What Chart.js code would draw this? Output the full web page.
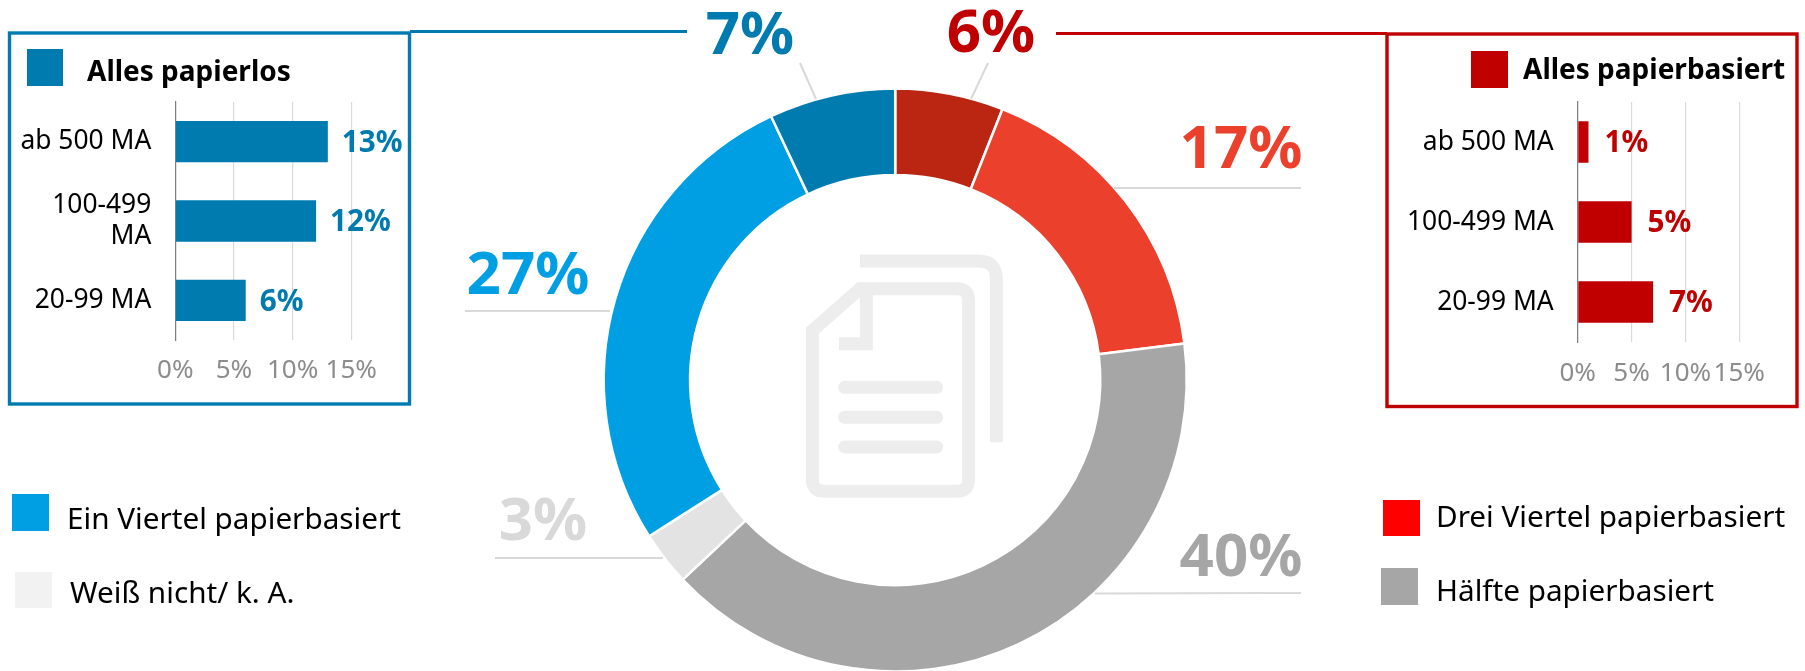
<!DOCTYPE html>
<html lang="de"><head><meta charset="utf-8">
<script src="https://cdn.jsdelivr.net/npm/chart.js@4"></script>
<style>
html,body{margin:0;padding:0;background:#fff;width:1805px;height:671px;overflow:hidden;font-family:"Noto Sans",sans-serif}
canvas,svg,.sw,.t{position:absolute}
.t{white-space:nowrap;line-height:1;transform:translateY(-50%);color:#000}
</style></head><body>
<canvas id="donut" width="1805" height="680" style="left:0;top:0"></canvas>
<svg width="1805" height="671" style="left:0;top:0" fill="none">
  <g stroke="#EDEDED">
    <g transform="translate(760 230) scale(.3333)" stroke-width="39">
      <path d="M300 93H655Q709 93 709 147V637"/>
      <path d="M300 176H590Q626 176 626 212V748Q626 784 590 784H193Q157 784 157 748V302Z"/>
      <path d="M237 341H319V176"/>
      <path stroke-linecap="round" d="M254 472H530M254 562H530M254 651H530"/>
    </g>
  </g>
  <g stroke="#D9D9D9" stroke-width="2">
    <path d="M800 63L816 99M988 63L971 99M1114 188H1301M465 311H610M495 558H663M1095 593.5L1301 593"/>
  </g>
  <path stroke="#007BB0" stroke-width="3.2" d="M410 31.5H687"/>
  <path stroke="#C00000" stroke-width="3.2" d="M1056 33.5H1387"/>
  <rect x="9.5" y="33" width="400" height="371" stroke="#007BB0" stroke-width="3.4"/>
  <rect x="1387" y="34" width="410" height="372.5" stroke="#C00000" stroke-width="3.4"/>
</svg>
<canvas id="barL" width="395" height="310" style="left:10px;top:90px"></canvas>
<canvas id="barR" width="404" height="314" style="left:1390px;top:90px"></canvas>
<div id="html"></div>
<script>
const FONT = '"Noto Sans", sans-serif';
const donutLabels = ['Alles papierbasiert','Drei Viertel papierbasiert','Hälfte papierbasiert','Weiß nicht/ k. A.','Ein Viertel papierbasiert','Alles papierlos'];
const donutValues = [6,17,40,3,27,7];
const donutColors = ['#BA2612','#EB412C','#A6A6A6','#E3E3E3','#009FE3','#007BB0'];
const donutTextColors = ['#C00000','#EB412C','#A6A6A6','#D9D9D9','#009FE3','#007BB0'];
const donutTextCenters = [[991,35],[1241,151],[1241,559],[543,523],[528,277],[750,37]];

const barCategories = ['ab 500 MA',['100-499','MA'],'20-99 MA'];
const barCategoriesRight = ['ab 500 MA','100-499 MA','20-99 MA'];
const papierlosValues = [13,12,6];
const papierbasiertValues = [1,5,7];
const axisTicks = [0,5,10,15];

const legendItems = [
  ['Ein Viertel papierbasiert','#009FE3',12,494,37,37,67,518],
  ['Weiß nicht/ k. A.','#F2F2F2',15,572,37,36,70,592],
  ['Drei Viertel papierbasiert','#FF0000',1383,500,37,36,1436,516],
  ['Hälfte papierbasiert','#A6A6A6',1381,568,37,37,1436,590]
];
const titles = [
  ['Alles papierlos','#007BB0',27,49,36,37,87,70],
  ['Alles papierbasiert','#C00000',1471,51,37,37,1523,68]
];

const host = document.getElementById('html');
legendItems.forEach(([txt,c,x,y,w,h,tx,ty])=>{
  host.insertAdjacentHTML('beforeend',`<div class="sw" style="left:${x}px;top:${y}px;width:${w}px;height:${h}px;background:${c}"></div><div class="t" style="left:${tx}px;top:${ty}px;font-size:29.7px">${txt}</div>`);
});
titles.forEach(([txt,c,x,y,w,h,tx,ty])=>{
  host.insertAdjacentHTML('beforeend',`<div class="sw" style="left:${x}px;top:${y}px;width:${w}px;height:${h}px;background:${c}"></div><div class="t" style="left:${tx}px;top:${ty}px;font-size:28px;font-weight:700">${txt}</div>`);
});

new Chart(document.getElementById('donut'),{
  type:'doughnut',
  data:{labels:donutLabels,datasets:[{data:donutValues,backgroundColor:donutColors,borderColor:'#fff',borderWidth:2.5,borderAlign:'center'}]},
  options:{responsive:false,animation:false,radius:291.5,cutout:206,
    layout:{padding:{left:601,right:615.6,top:86,bottom:6}},
    plugins:{legend:{display:false},tooltip:{enabled:false}}},
  plugins:[{id:'pct',afterDraw(c){
    const g=c.ctx;g.save();g.font='700 60px '+FONT;g.textAlign='center';g.textBaseline='middle';
    donutValues.forEach((v,i)=>{g.fillStyle=donutTextColors[i];g.fillText(v+'%',donutTextCenters[i][0],donutTextCenters[i][1]);});
    g.restore();
  }}]
});

function barChart(id,cats,vals,color,axisW,paddingTop,paddingRight,xHeight,gap,tickPad){
  return new Chart(document.getElementById(id),{
    type:'bar',
    data:{labels:cats,datasets:[{data:vals,backgroundColor:color,categoryPercentage:1,barPercentage:.52}]},
    options:{indexAxis:'y',responsive:false,animation:false,
      layout:{padding:{top:paddingTop,right:paddingRight,left:0,bottom:0}},
      plugins:{legend:{display:false},tooltip:{enabled:false}},
      scales:{
        y:{grid:{display:false,drawTicks:false},border:{color:'#7F7F7F',width:1.2},
           ticks:{color:'#000',font:{family:FONT,size:26.4},padding:24,autoSkip:false},
           afterFit(s){s.width=axisW;s.paddingTop=0;s.paddingBottom=0;}},
        x:{min:0,max:15,grid:{color:'#D9D9D9',lineWidth:1.2,drawTicks:false},border:{display:false},
           ticks:{color:'#8C8C8C',font:{family:FONT,size:26},padding:tickPad,maxRotation:0,autoSkip:false,
                  stepSize:5,callback:v=>v+'%'},
           afterBuildTicks(s){s.ticks=axisTicks.map(v=>({value:v}));},
           afterFit(s){s.height=xHeight;s.paddingLeft=0;s.paddingRight=0;}}
      }},
    plugins:[{id:'vals',afterDatasetsDraw(c){
      const g=c.ctx,m=c.getDatasetMeta(0);g.save();g.font='700 29.7px '+FONT;g.fillStyle=color;g.textBaseline='middle';g.textAlign='left';
      m.data.forEach((b,i)=>g.fillText(vals[i]+'%',b.x+gap,b.y+2));g.restore();
    }}]
  });
}
barChart('barL',barCategories,papierlosValues,'#007BB0',165.3,12,53.7,60,14,15);
barChart('barR',barCategoriesRight,papierbasiertValues,'#C00000',187.7,12,54.7,62,16,16);
</script>
</body></html>
